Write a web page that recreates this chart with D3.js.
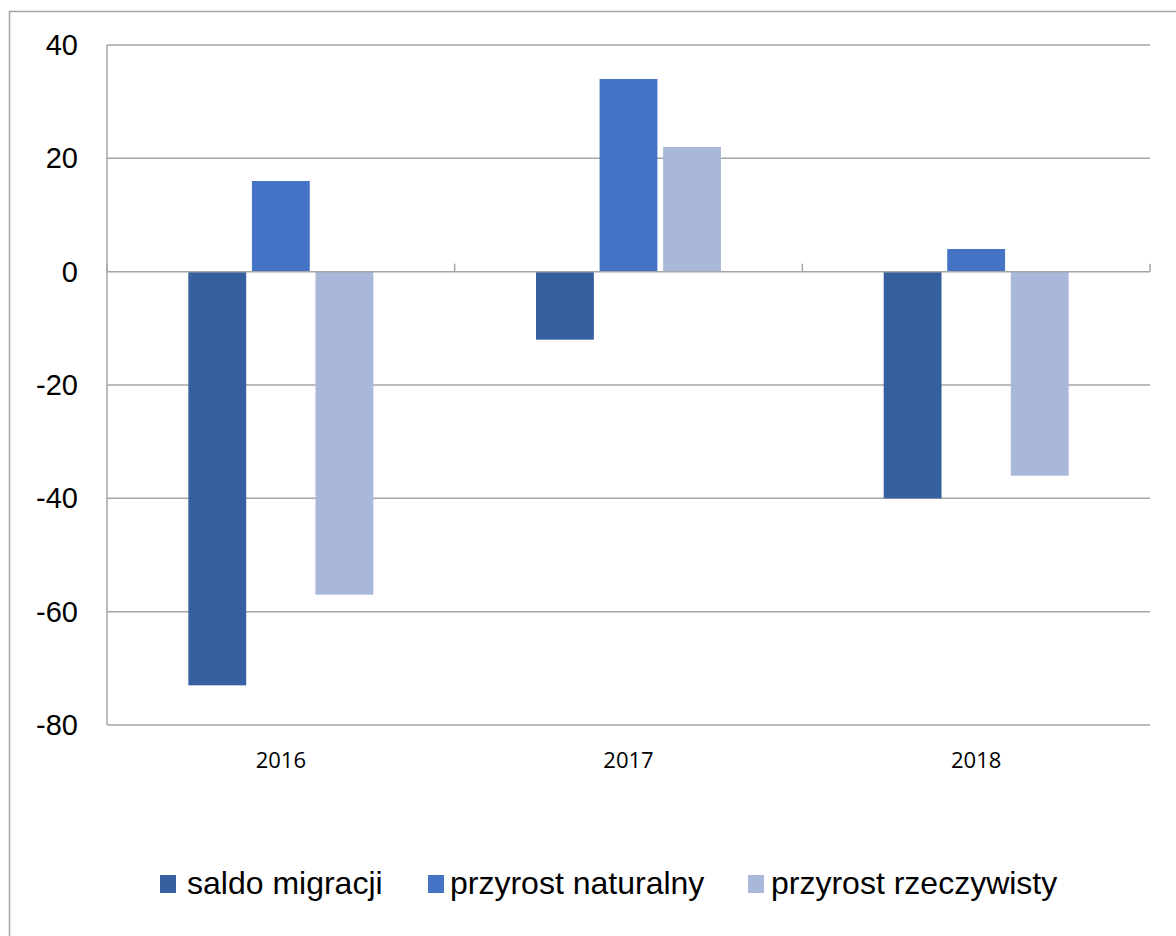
<!DOCTYPE html>
<html>
<head>
<meta charset="utf-8">
<script src="https://cdn.jsdelivr.net/npm/d3@7"></script>
<style>
  body { margin: 0; background: #fff; }
</style>
</head>
<body>
<div id="chartArea"></div>
<script>
var years = ['2016', '2017', '2018'];
var seriesNames = ['saldo migracji', 'przyrost naturalny', 'przyrost rzeczywisty'];
var saldoMigracji = [-73, -12, -40];
var przyrostNaturalny = [16, 34, 4];
var przyrostRzeczywisty = [-57, 22, -36];
var yTicks = [40, 20, 0, -20, -40, -60, -80];
var colors = ['#365f9f', '#4574c6', '#a9b7da'];

var seriesValues = [saldoMigracji, przyrostNaturalny, przyrostRzeczywisty];

var w = 1176, h = 936;
var plotLeft = 107, plotRight = 1150, plotTop = 45, plotBottom = 725;

var svg = d3.select('#chartArea').append('svg')
    .attr('width', w)
    .attr('height', h);

// outer chart frame
svg.append('rect')
    .attr('x', 9.5).attr('y', 11.5)
    .attr('width', 1300).attr('height', 1100)
    .attr('fill', 'none')
    .attr('stroke', '#a6a6a6')
    .attr('stroke-width', 1.5);

var yScale = d3.scaleLinear()
    .domain([-80, 40])
    .range([plotBottom, plotTop]);

var xScale = d3.scaleBand()
    .domain(years)
    .range([plotLeft, plotRight])
    .padding(0);

var band = xScale.bandwidth();
var inner = d3.scaleBand()
    .domain(d3.range(seriesNames.length))
    .range([band * 0.234, band * 0.766])
    .paddingInner(0.09);

// gridlines
svg.selectAll('line.grid')
    .data(yTicks.filter(function (d) { return d !== 0; }))
    .enter()
    .append('line')
    .attr('class', 'grid')
    .attr('x1', plotLeft).attr('x2', plotRight)
    .attr('y1', function (d) { return yScale(d); })
    .attr('y2', function (d) { return yScale(d); })
    .attr('stroke', '#a6a6a6')
    .attr('stroke-width', 1.5);

// y labels
svg.selectAll('text.ylab')
    .data(yTicks)
    .enter()
    .append('text')
    .attr('class', 'ylab')
    .attr('x', 78)
    .attr('y', function (d) { return yScale(d) + 10; })
    .attr('text-anchor', 'end')
    .style('font-family', 'Liberation Sans, Arial, sans-serif')
    .style('font-size', '29px')
    .attr('fill', '#000')
    .text(function (d) { return d; });

// bars
var groups = svg.selectAll('g.year')
    .data(years)
    .enter()
    .append('g')
    .attr('class', 'year')
    .attr('transform', function (d) { return 'translate(' + xScale(d) + ',0)'; });

groups.selectAll('rect')
    .data(function (d, i) {
        return seriesValues.map(function (s, k) { return { k: k, v: s[i] }; });
    })
    .enter()
    .append('rect')
    .attr('x', function (d) { return inner(d.k); })
    .attr('y', function (d) { return yScale(Math.max(0, d.v)); })
    .attr('width', inner.bandwidth())
    .attr('height', function (d) { return Math.abs(yScale(d.v) - yScale(0)); })
    .attr('fill', function (d) { return colors[d.k]; });

// y axis line
svg.append('line')
    .attr('x1', plotLeft).attr('x2', plotLeft)
    .attr('y1', plotTop).attr('y2', plotBottom)
    .attr('stroke', '#a6a6a6')
    .attr('stroke-width', 1.5);

// zero axis with ticks
svg.append('line')
    .attr('x1', plotLeft).attr('x2', plotRight)
    .attr('y1', yScale(0)).attr('y2', yScale(0))
    .attr('stroke', '#a6a6a6')
    .attr('stroke-width', 1.5);

var boundaries = years.map(function (d) { return xScale(d); }).concat([plotRight]);
svg.selectAll('line.tick')
    .data(boundaries)
    .enter()
    .append('line')
    .attr('class', 'tick')
    .attr('x1', function (d) { return d; })
    .attr('x2', function (d) { return d; })
    .attr('y1', yScale(0))
    .attr('y2', yScale(0) - 8)
    .attr('stroke', '#a6a6a6')
    .attr('stroke-width', 1.5);

// x labels
svg.selectAll('text.xlab')
    .data(years)
    .enter()
    .append('text')
    .attr('class', 'xlab')
    .attr('x', function (d) { return xScale(d) + band / 2; })
    .attr('y', 768)
    .attr('text-anchor', 'middle')
    .style('font-family', 'Open Sans, sans-serif')
    .style('font-size', '22px')
    .attr('fill', '#000')
    .text(function (d) { return d; });

// legend
var legendSwatchX = [160, 428, 748];
var legendTextX = [187, 450, 771];
var legend = svg.selectAll('g.legend')
    .data(seriesNames)
    .enter()
    .append('g')
    .attr('class', 'legend');

legend.append('rect')
    .attr('x', function (d, i) { return legendSwatchX[i]; })
    .attr('y', 875)
    .attr('width', 16).attr('height', 18)
    .attr('fill', function (d, i) { return colors[i]; });

legend.append('text')
    .attr('x', function (d, i) { return legendTextX[i]; })
    .attr('y', 894)
    .style('font-family', 'Liberation Sans, Arial, sans-serif')
    .style('font-size', '32px')
    .attr('fill', '#000')
    .text(function (d) { return d; });
</script>
</body>
</html>
